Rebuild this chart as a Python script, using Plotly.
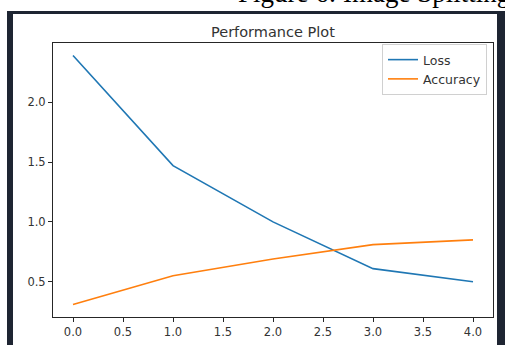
import plotly.graph_objects as go

epochs = [0, 1, 2, 3, 4]
loss = [2.39, 1.47, 1.00, 0.61, 0.50]
accuracy = [0.31, 0.55, 0.69, 0.81, 0.85]
series_names = ["Loss", "Accuracy"]
title_text = "Performance Plot"
caption_text = "Figure 6: Image Splitting"

W, H = 505, 345

def px(x):
    return x / W

def py(y):
    return 1 - y / H

fig = go.Figure()
fig.add_trace(go.Scatter(x=epochs, y=loss, mode="lines", name=series_names[0],
                         line=dict(color="#1f77b4", width=1.6)))
fig.add_trace(go.Scatter(x=epochs, y=accuracy, mode="lines", name=series_names[1],
                         line=dict(color="#ff7f0e", width=1.6)))

allv = loss + accuracy
lo, hi = min(allv), max(allv)
pad = 0.05 * (hi - lo)
xlo, xhi = min(epochs), max(epochs)
xpad = 0.05 * (xhi - xlo)

axis_common = dict(showline=True, linecolor="#262626", linewidth=1, mirror=True,
                   ticks="outside", ticklen=4, tickwidth=1, tickcolor="#262626",
                   showgrid=False, zeroline=False, tickformat=".1f",
                   tickfont=dict(family="DejaVu Sans", size=11.5, color="#333"))

fig.update_layout(
    width=W, height=H,
    margin=dict(l=0, r=0, t=0, b=0),
    paper_bgcolor="white", plot_bgcolor="white",
    showlegend=True,
    xaxis=dict(domain=[px(53), px(493)], range=[xlo - xpad, xhi + xpad], dtick=0.5, **axis_common),
    yaxis=dict(domain=[py(317), py(43)], range=[lo - pad, hi + pad], dtick=0.5, **axis_common),
    legend=dict(x=px(487), y=py(44), xanchor="right", yanchor="top",
                bordercolor="#d0d0d0", borderwidth=1, bgcolor="white",
                font=dict(family="DejaVu Sans", size=12.5, color="#333"),
                itemwidth=30, tracegroupgap=0),
    shapes=[
        dict(type="rect", xref="paper", yref="paper", x0=px(7), x1=1.0, y0=0, y1=py(11),
             fillcolor="#1e2532", line=dict(width=0), layer="below"),
        dict(type="rect", xref="paper", yref="paper", x0=px(13), x1=px(497), y0=0, y1=py(14),
             fillcolor="white", line=dict(width=0), layer="below"),
    ],
    annotations=[
        dict(text=title_text, xref="paper", yref="paper", x=px(273), y=py(31.5),
             xanchor="center", yanchor="middle", showarrow=False,
             font=dict(family="DejaVu Sans", size=14.5, color="#333")),
        dict(text=caption_text, xref="paper", yref="paper", x=px(236), y=py(-7),
             xanchor="left", yanchor="middle", showarrow=False,
             font=dict(family="Liberation Serif", size=27, color="black")),
    ],
)

fig.write_html("out.html", config={"displayModeBar": False},
               post_script="document.body.style.margin='0';document.body.style.overflow='hidden';")
